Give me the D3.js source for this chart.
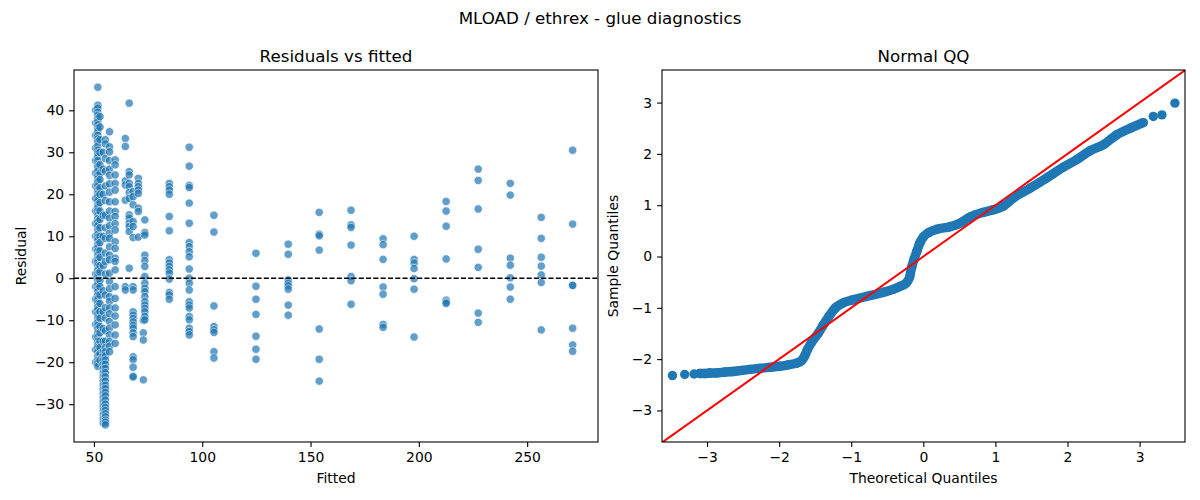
<!DOCTYPE html>
<html>
<head>
<meta charset="utf-8">
<script src="https://cdn.jsdelivr.net/npm/d3@7"></script>
<style>
  body { margin: 0; background: #fff; }
  text { font-family: "DejaVu Sans", sans-serif; fill: #000; }
</style>
</head>
<body>
<div id="vis"></div>
<script>
/*
glue diagnostics - residuals + qq
*/

const FRAME_WIDTH = 1200;
const FRAME_HEIGHT = 500;

// fitted levels (x of each column) and the residuals
const fitted = [50.8, 51.8, 52.8, 54.3, 55.3, 57.2, 59.8, 64.5, 66.3, 68.1, 70.5, 72.8, 73.5,
                84.8, 94, 105.4, 124.8, 139.7, 154, 168.7, 183.5, 197.8,
                212.6, 227.4, 242.2, 256.5, 271];

const residuals = [
  [40, 37, 34, 31, 28, 25, 22, 19, 16, 13, 10, 7, 4, 1, -2, -5, -8, -11, -14, -17, -20],
  [45.5, 41.2, 40.5, 39.5, 38.8, 38, 37.2, 36.5, 35.7, 35, 34, 33.2, 32.5, 31.5, 30.5, 29.8, 29,
   28, 27, 26.5, 25.5, 24.5, 23.7, 23, 22, 21, 20.2, 19.5, 18.5, 17.5, 16.8, 16, 15, 14.2, 13.5,
   12.5, 11.5, 10.5, 9.8, 9, 8, 7.2, 6.5, 5.5, 4.5, 3.8, 3, 2, 1, 0.2, -0.5, -1.5, -2.5, -3.2,
   -4, -5, -6, -6.8, -7.5, -8.5, -9.5, -10.5, -11.2, -12, -13, -14, -15, -15.8, -16.5, -17.5,
   -18.5, -19.5, -20.2, -21],
  [38.5, 36, 33, 30, 27, 25, 23.5, 21.5, 20, 18, 16, 14, 12, 10, 8.5, 6.5, 5, 3, 1.5, -0.5, -2,
   -4, -6, -8, -9.5, -11.5, -13, -15, -16.5, -18, -19.5],
  [30, 26, 20, 15, 10, 3, -3, -8, -12, -15, -17.5, -18.5, -19.5, -20.5, -21.5, -22.5, -23.5,
   -24.5, -25.5, -26.5, -27.5, -28.5, -29.5, -30.5, -31.5, -32.5, -33.5, -34.5],
  [33, 32, 28.5, 25.5, 22, 18.5, 15, 12, 9.5, 6, 4, 1, -4, -7, -9.5, -12.5, -15, -16.5, -17.5,
   -18.5, -19.5, -20.5, -21.5, -22.5, -23.5, -24.5, -25.5, -26.3, -27.2, -28, -29, -30, -30.8,
   -31.5, -32.3, -33, -33.8, -34.3, -34.9],
  [34.9, 31.3, 30.1, 28, 26, 24.5, 22.5, 20.5, 18.2, 16, 14.3, 12.5, 10.7, 9.5, 7.5, 5.5, 4.4,
   1.2, -0.8, -2.5, -4.4, -5.5, -7.1, -8.5, -10.3, -11.9, -13.5, -15.1, -16.2, -17.5],
  [28.2, 27, 24.6, 22.6, 21, 18.2, 15.9, 14.7, 13, 11.5, 8.7, 7.1, 4.8, 4, 2, -2, -4.8, -7.1,
   -9, -11.1, -13.5, -15.5],
  [33.3, 31.4, 23.2, 22.2, 18.6, -2, -2.8],
  [41.7, 25.4, 24.6, 22.6, 21.8, 20.4, 19, 15.1, 14.3, 13.1, 12.3, 11.1, 2.4],
  [20.6, 19.4, 17.5, 13.5, 12.3, 9.7, -2, -2.8, -8, -8.8, -9.6, -10.4, -11.2, -11.9, -13, -13.9,
   -18.7, -19.4, -21.2, -23.3, -23.5],
  [23.8, 22.6, 21.8, 21, 20.2, 16.7, 15.9, 9.8],
  [-10, -13, -14.7, -24.2],
  [13.9, 10.9, 10.3, 5.5, 4.2, 2.8, 0.4, -1.2, -2.4, -3.2, -4.4, -5.6, -6.4, -7.2, -8, -9.1, -9.9],
  [22.6, 21.8, 21, 20, 14.7, 11.3, 4.4, 3.6, 2.8, 2, 1.2, -0.2, -3.4, -4, -5],
  [31.2, 26.7, 22.1, 21.6, 17.9, 13.1, 8.5, 7.5, 6.3, 5.1, 2.2, 0, -1.2, -2.8, -5.6, -6.4, -7.1,
   -9.1, -9.9, -11.9, -12.7, -13.5],
  [15, 11, -6.6, -11.5, -12.3, -12.9, -17.5, -19],
  [5.95, -1.9, -5, -8.6, -13.8, -16.9, -19.3],
  [8.1, 5.7, -0.4, -1.2, -1.8, -2.6, -6.4, -8.8],
  [15.7, 10.5, 10.1, 6.7, -12.1, -19.3, -24.5],
  [16.2, 12.7, 12.1, 7.9, 0.4, -0.6, -6.2],
  [9.4, 8, 4.5, -2.1, -3.8, -11, -11.7],
  [10, 4.5, 3.6, 2.3, -0.1, -2.6, -14],
  [18.3, 16, 12.4, 4.6, -5.2, -5.7, -6],
  [26, 23.3, 16.5, 6.9, 2.6, -8.3, -10.5],
  [22.6, 19.8, 4.8, 3.1, 0.1, -2.1, -5],
  [14.5, 9.5, 5, 2.9, 0.8, -1, -12.3],
  [30.5, 12.9, -1.7, -1.7, -11.9, -15.9, -17.4]
];

// qq points (theoretical, sample)
const qqTheoretical = [-3.48, -3.31, -3.18, -3.10, -3.03, -2.96, -2.87, -2.75, -2.64, -2.52,
  -2.40, -2.27, -2.14, -2.00, -1.87, -1.76, -1.69, -1.65, -1.61, -1.55, -1.46, -1.39, -1.31,
  -1.22, -1.12, -0.99, -0.79, -0.56, -0.42, -0.32, -0.24, -0.19, -0.16, -0.13, -0.09, -0.05,
  0.00, 0.08, 0.19, 0.37, 0.51, 0.65, 0.83, 0.97, 1.11, 1.25, 1.48, 1.71, 1.94, 2.13, 2.31,
  2.50, 2.68, 2.87, 3.05, 3.19, 3.31, 3.49];
const qqSample = [-2.32, -2.30, -2.29, -2.28, -2.28, -2.27, -2.27, -2.25, -2.24, -2.22,
  -2.20, -2.18, -2.16, -2.14, -2.11, -2.08, -2.03, -1.95, -1.82, -1.67, -1.50, -1.34, -1.17,
  -1.00, -0.91, -0.85, -0.78, -0.70, -0.64, -0.58, -0.52, -0.40, -0.20, -0.06, 0.10, 0.26,
  0.38, 0.47, 0.53, 0.58, 0.65, 0.77, 0.86, 0.91, 0.98, 1.14, 1.33, 1.53, 1.74, 1.89, 2.06,
  2.18, 2.37, 2.50, 2.61, 2.73, 2.76, 2.99];

const residTicks = [-30, -20, -10, 0, 10, 20, 30, 40];
const fittedTicks = [50, 100, 150, 200, 250];
const qqTicks = [-3, -2, -1, 0, 1, 2, 3];

const BLUE = "#1f77b4";

const LEFT = {x0: 74, x1: 598, y0: 70, y1: 442};
const RIGHT = {x0: 662, x1: 1185, y0: 70, y1: 442};

const FRAME = d3.select("#vis")
  .append("svg")
    .attr("width", FRAME_WIDTH)
    .attr("height", FRAME_HEIGHT);

FRAME.append("text")
  .attr("x", 600).attr("y", 24)
  .attr("text-anchor", "middle")
  .style("font-size", "16.7px")
  .text("MLOAD / ethrex - glue diagnostics");

// shared axis styling, matplotlib-ish
function styleAxis(g) {
  g.selectAll("text").style("font-size", "13.9px").attr("fill", "#000");
  g.selectAll("line").attr("stroke", "#000").attr("stroke-width", 1.1);
  g.select(".domain").remove();
}

function panel(box, xs, ys, xticks, yticks, fmt, title, xlabel, ylabel, id, ylabOffset) {
  const g = FRAME.append("g");

  g.append("clipPath").attr("id", id)
    .append("rect")
      .attr("x", box.x0).attr("y", box.y0)
      .attr("width", box.x1 - box.x0).attr("height", box.y1 - box.y0);

  g.append("g")
    .attr("transform", "translate(0," + box.y1 + ")")
    .call(d3.axisBottom(xs).tickValues(xticks).tickSize(4.9).tickPadding(4.9).tickFormat(fmt))
    .call(styleAxis);

  g.append("g")
    .attr("transform", "translate(" + box.x0 + ",0)")
    .call(d3.axisLeft(ys).tickValues(yticks).tickSize(4.9).tickPadding(4.9).tickFormat(fmt))
    .call(styleAxis);

  g.append("text")
    .attr("x", (box.x0 + box.x1) / 2).attr("y", box.y0 - 8)
    .attr("text-anchor", "middle")
    .style("font-size", "16.7px")
    .text(title);

  g.append("text")
    .attr("x", (box.x0 + box.x1) / 2).attr("y", box.y1 + 41)
    .attr("text-anchor", "middle")
    .style("font-size", "13.9px")
    .text(xlabel);

  g.append("text")
    .attr("transform", "translate(" + (box.x0 - ylabOffset) + "," + ((box.y0 + box.y1) / 2) + ") rotate(-90)")
    .attr("text-anchor", "middle")
    .style("font-size", "13.9px")
    .text(ylabel);

  return g;
}

const minus = (d) => d3.format("d")(d).replace("-", "\u2212");

// ---- left: residuals vs fitted
const X_FIT = d3.scaleLinear().domain([40.8, 282.7]).range([LEFT.x0, LEFT.x1]);
const Y_RES = d3.scaleLinear().domain([-39.0, 49.6]).range([LEFT.y1, LEFT.y0]);

const gL = panel(LEFT, X_FIT, Y_RES, fittedTicks, residTicks, minus,
  "Residuals vs fitted", "Fitted", "Residual", "clipL", 48);

const points = [];
fitted.forEach((f, i) => {
  residuals[i].forEach((r) => points.push({f: f, r: r}));
});

gL.append("g")
  .attr("clip-path", "url(#clipL)")
  .selectAll("circle")
  .data(points)
  .enter()
  .append("circle")
    .attr("cx", (d) => X_FIT(d.f))
    .attr("cy", (d) => Y_RES(d.r))
    .attr("r", 4.2)
    .attr("fill", BLUE)
    .attr("stroke", "#fff")
    .attr("stroke-width", 0.75)
    .attr("opacity", 0.7);

gL.append("line")
  .attr("x1", LEFT.x0).attr("x2", LEFT.x1)
  .attr("y1", Y_RES(0)).attr("y2", Y_RES(0))
  .attr("stroke", "#000")
  .attr("stroke-width", 1.3)
  .attr("stroke-dasharray", "5.1,2.2");

// ---- right: normal qq
const X_QQ = d3.scaleLinear().domain([-3.625, 3.63]).range([RIGHT.x0, RIGHT.x1]);
const Y_QQ = d3.scaleLinear().domain([-3.615, 3.635]).range([RIGHT.y1, RIGHT.y0]);

const gR = panel(RIGHT, X_QQ, Y_QQ, qqTicks, qqTicks, minus,
  "Normal QQ", "Theoretical Quantiles", "Sample Quantiles", "clipR", 44);

const qq = qqTheoretical.map((t, i) => ({t: t, s: qqSample[i]}));

// the middle of the curve is so dense the markers merge into a band
const qqLine = d3.line().x((d) => X_QQ(d.t)).y((d) => Y_QQ(d.s)).curve(d3.curveMonotoneX);
gR.append("path")
  .datum(qq.slice(3, qq.length - 3))
  .attr("d", qqLine)
  .attr("fill", "none")
  .attr("stroke", BLUE)
  .attr("stroke-width", 9.4)
  .attr("stroke-linecap", "round")
  .attr("stroke-linejoin", "round");

gR.append("g")
  .selectAll("circle")
  .data(qq)
  .enter()
  .append("circle")
    .attr("cx", (d) => X_QQ(d.t))
    .attr("cy", (d) => Y_QQ(d.s))
    .attr("r", 4.7)
    .attr("fill", BLUE);

gR.append("line")
  .attr("clip-path", "url(#clipR)")
  .attr("x1", X_QQ(-3.7)).attr("y1", Y_QQ(-3.7))
  .attr("x2", X_QQ(3.7)).attr("y2", Y_QQ(3.7))
  .attr("stroke", "#ff0000")
  .attr("stroke-width", 2);

// spines on top
[LEFT, RIGHT].forEach((b) => {
  FRAME.append("rect")
    .attr("x", b.x0).attr("y", b.y0)
    .attr("width", b.x1 - b.x0).attr("height", b.y1 - b.y0)
    .attr("fill", "none")
    .attr("stroke", "#000")
    .attr("stroke-width", 1.1);
});
</script>
</body>
</html>
